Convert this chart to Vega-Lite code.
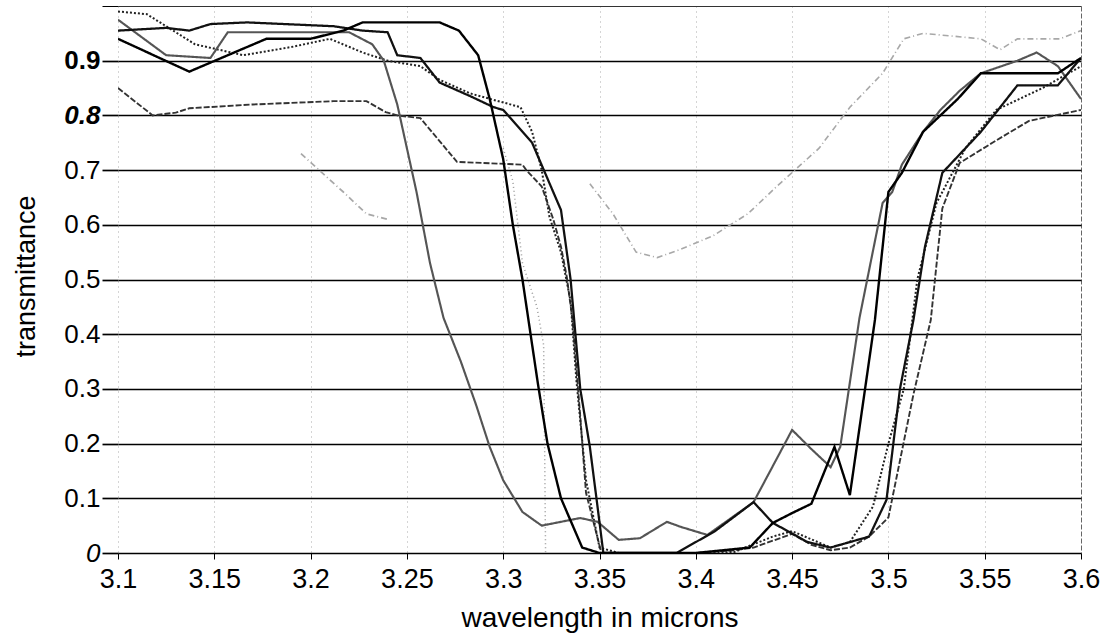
{
  "$schema": "https://vega.github.io/schema/vega-lite/v6.json",
  "width": 963,
  "height": 547,
  "autosize": {"type": "none"},
  "padding": {"left": 118, "top": 6, "right": 29, "bottom": 86},
  "background": "white",
  "config": {
    "view": {"stroke": null},
    "font": "Liberation Sans"
  },
  "data": {
    "values": [
      {"s":"F","x":3.195,"y":0.73},{"s":"F","x":3.217,"y":0.66},{"s":"F","x":3.229,"y":0.62},{"s":"F","x":3.24,"y":0.61},
      {"s":"G","x":3.345,"y":0.675},{"s":"G","x":3.357,"y":0.62},{"s":"G","x":3.369,"y":0.55},{"s":"G","x":3.38,"y":0.54},{"s":"G","x":3.392,"y":0.555},{"s":"G","x":3.409,"y":0.58},{"s":"G","x":3.427,"y":0.62},{"s":"G","x":3.442,"y":0.67},{"s":"G","x":3.464,"y":0.74},{"s":"G","x":3.48,"y":0.815},{"s":"G","x":3.497,"y":0.877},{"s":"G","x":3.508,"y":0.94},{"s":"G","x":3.518,"y":0.95},{"s":"G","x":3.548,"y":0.94},{"s":"G","x":3.558,"y":0.92},{"s":"G","x":3.567,"y":0.94},{"s":"G","x":3.589,"y":0.94},{"s":"G","x":3.60,"y":0.955},

      {"s":"H","x":3.30,"y":0.74},{"s":"H","x":3.305,"y":0.68},{"s":"H","x":3.31,"y":0.53},{"s":"H","x":3.3175,"y":0.45},{"s":"H","x":3.321,"y":0.38},{"s":"H","x":3.3215,"y":0.2},{"s":"H","x":3.322,"y":0.0},

      {"s":"E","x":3.10,"y":0.85},{"s":"E","x":3.118,"y":0.80},{"s":"E","x":3.13,"y":0.805},{"s":"E","x":3.137,"y":0.813},{"s":"E","x":3.17,"y":0.82},{"s":"E","x":3.212,"y":0.826},{"s":"E","x":3.229,"y":0.826},{"s":"E","x":3.239,"y":0.806},{"s":"E","x":3.245,"y":0.80},{"s":"E","x":3.257,"y":0.795},{"s":"E","x":3.276,"y":0.715},{"s":"E","x":3.31,"y":0.71},{"s":"E","x":3.312,"y":0.70},{"s":"E","x":3.32,"y":0.67},{"s":"E","x":3.326,"y":0.61},{"s":"E","x":3.33,"y":0.56},{"s":"E","x":3.333,"y":0.505},{"s":"E","x":3.336,"y":0.426},{"s":"E","x":3.34,"y":0.25},{"s":"E","x":3.343,"y":0.11},{"s":"E","x":3.351,"y":0.0},{"s":"E","x":3.40,"y":0.0},{"s":"E","x":3.42,"y":0.005},{"s":"E","x":3.43,"y":0.01},{"s":"E","x":3.45,"y":0.035},{"s":"E","x":3.46,"y":0.015},{"s":"E","x":3.47,"y":0.005},{"s":"E","x":3.48,"y":0.01},{"s":"E","x":3.49,"y":0.03},{"s":"E","x":3.50,"y":0.065},{"s":"E","x":3.513,"y":0.29},{"s":"E","x":3.522,"y":0.426},{"s":"E","x":3.528,"y":0.63},{"s":"E","x":3.537,"y":0.713},{"s":"E","x":3.554,"y":0.75},{"s":"E","x":3.573,"y":0.79},{"s":"E","x":3.60,"y":0.81},

      {"s":"D","x":3.10,"y":0.99},{"s":"D","x":3.115,"y":0.985},{"s":"D","x":3.14,"y":0.93},{"s":"D","x":3.165,"y":0.91},{"s":"D","x":3.19,"y":0.925},{"s":"D","x":3.21,"y":0.94},{"s":"D","x":3.227,"y":0.915},{"s":"D","x":3.24,"y":0.90},{"s":"D","x":3.257,"y":0.89},{"s":"D","x":3.267,"y":0.865},{"s":"D","x":3.283,"y":0.84},{"s":"D","x":3.309,"y":0.815},{"s":"D","x":3.315,"y":0.77},{"s":"D","x":3.32,"y":0.70},{"s":"D","x":3.324,"y":0.615},{"s":"D","x":3.33,"y":0.55},{"s":"D","x":3.335,"y":0.46},{"s":"D","x":3.338,"y":0.316},{"s":"D","x":3.343,"y":0.133},{"s":"D","x":3.35,"y":0.01},{"s":"D","x":3.36,"y":0.0},{"s":"D","x":3.40,"y":0.0},{"s":"D","x":3.42,"y":0.002},{"s":"D","x":3.44,"y":0.03},{"s":"D","x":3.45,"y":0.04},{"s":"D","x":3.47,"y":0.01},{"s":"D","x":3.48,"y":0.02},{"s":"D","x":3.492,"y":0.085},{"s":"D","x":3.50,"y":0.2},{"s":"D","x":3.508,"y":0.30},{"s":"D","x":3.515,"y":0.50},{"s":"D","x":3.525,"y":0.64},{"s":"D","x":3.54,"y":0.74},{"s":"D","x":3.556,"y":0.81},{"s":"D","x":3.58,"y":0.85},{"s":"D","x":3.60,"y":0.89},

      {"s":"C","x":3.10,"y":0.975},{"s":"C","x":3.125,"y":0.91},{"s":"C","x":3.148,"y":0.905},{"s":"C","x":3.157,"y":0.952},{"s":"C","x":3.22,"y":0.952},{"s":"C","x":3.232,"y":0.93},{"s":"C","x":3.238,"y":0.90},{"s":"C","x":3.245,"y":0.82},{"s":"C","x":3.255,"y":0.66},{"s":"C","x":3.262,"y":0.53},{"s":"C","x":3.269,"y":0.43},{"s":"C","x":3.278,"y":0.35},{"s":"C","x":3.286,"y":0.27},{"s":"C","x":3.293,"y":0.194},{"s":"C","x":3.30,"y":0.133},{"s":"C","x":3.31,"y":0.075},{"s":"C","x":3.32,"y":0.05},{"s":"C","x":3.34,"y":0.064},{"s":"C","x":3.349,"y":0.057},{"s":"C","x":3.36,"y":0.024},{"s":"C","x":3.371,"y":0.027},{"s":"C","x":3.385,"y":0.057},{"s":"C","x":3.392,"y":0.048},{"s":"C","x":3.406,"y":0.033},{"s":"C","x":3.43,"y":0.093},{"s":"C","x":3.45,"y":0.225},{"s":"C","x":3.46,"y":0.19},{"s":"C","x":3.47,"y":0.157},{"s":"C","x":3.475,"y":0.194},{"s":"C","x":3.485,"y":0.43},{"s":"C","x":3.497,"y":0.64},{"s":"C","x":3.502,"y":0.66},{"s":"C","x":3.507,"y":0.71},{"s":"C","x":3.518,"y":0.77},{"s":"C","x":3.527,"y":0.81},{"s":"C","x":3.537,"y":0.845},{"s":"C","x":3.548,"y":0.877},{"s":"C","x":3.567,"y":0.90},{"s":"C","x":3.577,"y":0.915},{"s":"C","x":3.588,"y":0.89},{"s":"C","x":3.60,"y":0.83},

      {"s":"B","x":3.10,"y":0.955},{"s":"B","x":3.125,"y":0.96},{"s":"B","x":3.137,"y":0.955},{"s":"B","x":3.148,"y":0.967},{"s":"B","x":3.167,"y":0.97},{"s":"B","x":3.212,"y":0.963},{"s":"B","x":3.227,"y":0.955},{"s":"B","x":3.24,"y":0.952},{"s":"B","x":3.245,"y":0.91},{"s":"B","x":3.257,"y":0.905},{"s":"B","x":3.267,"y":0.86},{"s":"B","x":3.283,"y":0.835},{"s":"B","x":3.295,"y":0.815},{"s":"B","x":3.30,"y":0.81},{"s":"B","x":3.315,"y":0.75},{"s":"B","x":3.33,"y":0.627},{"s":"B","x":3.335,"y":0.5},{"s":"B","x":3.34,"y":0.30},{"s":"B","x":3.345,"y":0.194},{"s":"B","x":3.349,"y":0.084},{"s":"B","x":3.352,"y":0.0},{"s":"B","x":3.39,"y":0.0},{"s":"B","x":3.41,"y":0.04},{"s":"B","x":3.43,"y":0.093},{"s":"B","x":3.44,"y":0.055},{"s":"B","x":3.458,"y":0.02},{"s":"B","x":3.47,"y":0.01},{"s":"B","x":3.49,"y":0.03},{"s":"B","x":3.499,"y":0.097},{"s":"B","x":3.506,"y":0.30},{"s":"B","x":3.513,"y":0.426},{"s":"B","x":3.519,"y":0.56},{"s":"B","x":3.528,"y":0.695},{"s":"B","x":3.548,"y":0.77},{"s":"B","x":3.567,"y":0.855},{"s":"B","x":3.588,"y":0.855},{"s":"B","x":3.60,"y":0.905},

      {"s":"A","x":3.10,"y":0.94},{"s":"A","x":3.137,"y":0.88},{"s":"A","x":3.177,"y":0.94},{"s":"A","x":3.20,"y":0.94},{"s":"A","x":3.217,"y":0.955},{"s":"A","x":3.227,"y":0.97},{"s":"A","x":3.267,"y":0.97},{"s":"A","x":3.277,"y":0.955},{"s":"A","x":3.287,"y":0.91},{"s":"A","x":3.293,"y":0.83},{"s":"A","x":3.30,"y":0.72},{"s":"A","x":3.305,"y":0.60},{"s":"A","x":3.31,"y":0.50},{"s":"A","x":3.318,"y":0.31},{"s":"A","x":3.323,"y":0.20},{"s":"A","x":3.33,"y":0.10},{"s":"A","x":3.341,"y":0.01},{"s":"A","x":3.35,"y":0.0},{"s":"A","x":3.40,"y":0.0},{"s":"A","x":3.428,"y":0.01},{"s":"A","x":3.44,"y":0.055},{"s":"A","x":3.45,"y":0.073},{"s":"A","x":3.46,"y":0.09},{"s":"A","x":3.472,"y":0.194},{"s":"A","x":3.48,"y":0.106},{"s":"A","x":3.493,"y":0.426},{"s":"A","x":3.50,"y":0.66},{"s":"A","x":3.507,"y":0.695},{"s":"A","x":3.518,"y":0.77},{"s":"A","x":3.536,"y":0.83},{"s":"A","x":3.548,"y":0.877},{"s":"A","x":3.588,"y":0.877},{"s":"A","x":3.60,"y":0.905}
    ]
  },
  "mark": {"type": "line", "interpolate": "linear", "clip": true},
  "encoding": {
    "x": {
      "field": "x",
      "type": "quantitative",
      "scale": {"domain": [3.1, 3.6], "nice": false, "zero": false},
      "axis": {
        "values": [3.1, 3.15, 3.2, 3.25, 3.3, 3.35, 3.4, 3.45, 3.5, 3.55, 3.6],
        "labelExpr": "'' + datum.value",
        "title": "wavelength in microns",
        "titleFontSize": 28,
        "titleFontWeight": "normal",
        "titleColor": "#000",
        "titleY": 51,
        "labelFontSize": 27,
        "labelColor": "#000",
        "labelPadding": 7,
        "labelFlush": false,
        "domain": false,
        "ticks": true,
        "tickSize": 6,
        "tickColor": "#000",
        "tickWidth": 1,
        "grid": true,
        "gridColor": "#666",
        "gridWidth": 1,
        "gridDash": {"condition": {"test": "datum.value == 3.6", "value": [5, 2]}, "value": [1, 4]},
        "gridOpacity": {"condition": {"test": "datum.value == 3.6", "value": 1}, "value": 0.55}
      }
    },
    "y": {
      "field": "y",
      "type": "quantitative",
      "scale": {"domain": [0, 1], "nice": false, "zero": true},
      "axis": {
        "values": [0, 0.1, 0.2, 0.3, 0.4, 0.5, 0.6, 0.7, 0.8, 0.9, 1],
        "labelExpr": "datum.value == 1 ? '' : '' + datum.value",
        "title": "transmittance",
        "titleFontSize": 27,
        "titleFontWeight": "normal",
        "titleColor": "#000",
        "titleX": -84,
        "titleY": 270,
        "titleBaseline": "alphabetic",
        "labelFontSize": 26,
        "labelColor": "#000",
        "labelPadding": 2,
        "labelFontWeight": {"condition": {"test": "datum.value == 0.9 || datum.value == 0.8", "value": "bold"}, "value": "normal"},
        "labelFontStyle": {"condition": {"test": "datum.value == 0.8 || datum.value == 0", "value": "italic"}, "value": "normal"},
        "domain": false,
        "ticks": true,
        "tickSize": 16,
        "tickColor": "#000",
        "tickWidth": {"condition": {"test": "datum.value == 1", "value": 1}, "value": 1.7},
        "grid": true,
        "gridColor": {"condition": {"test": "datum.value == 1", "value": "#333"}, "value": "#000"},
        "gridWidth": {"condition": {"test": "datum.value == 1", "value": 1}, "value": 1.7},
        "gridOpacity": 1
      }
    },
    "color": {
      "field": "s",
      "type": "nominal",
      "scale": {"domain": ["A","B","C","D","E","F","G","H"], "range": ["#000000","#111111","#555555","#222222","#333333","#a8a8a8","#a8a8a8","#999999"]},
      "legend": null
    },
    "strokeWidth": {
      "field": "s",
      "type": "nominal",
      "scale": {"domain": ["A","B","C","D","E","F","G","H"], "range": [2.4, 1.5, 1.1, 1.4, 1.3, 1.0, 1.0, 1.0]},
      "legend": null
    },
    "strokeDash": {
      "field": "s",
      "type": "nominal",
      "scale": {"domain": ["A","B","C","D","E","F","G","H"], "range": [[1,0],[1,0],[1,0],[2,2],[6,2],[6,3,1,3],[6,3,1,3],[1,3]]},
      "legend": null
    }
  }
}
